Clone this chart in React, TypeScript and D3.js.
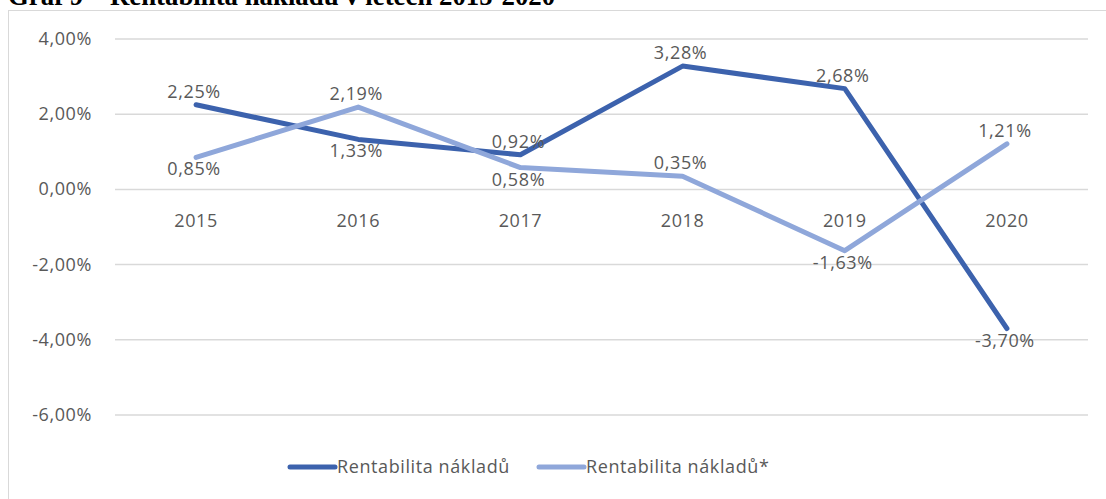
import React from "react";
import * as d3 from "d3";

// chart data
const years = ["2015", "2016", "2017", "2018", "2019", "2020"];
const rentabilita = [2.25, 1.33, 0.92, 3.28, 2.68, -3.7];
const rentabilitaStar = [0.85, 2.19, 0.58, 0.35, -1.63, 1.21];
const yTicks = [4, 2, 0, -2, -4, -6];
const seriesNames = ["Rentabilita nákladů", "Rentabilita nákladů*"];
// where each data label sits relative to its point
const posMain = ["above", "below", "above", "above", "above", "below"];
const posStar = ["below", "above", "below", "above", "below", "above"];

const W = 1106;
const H = 499;
const FONT = "'Open Sans', 'Noto Sans', sans-serif";
const FS = 18;
const LS = 0.6;
const C1 = "#3C62AD";
const C2 = "#8FA7DA";
const TXT = "#595959";

const fmt = (v: number) => v.toFixed(2).replace(".", ",") + "%";

const App = () => {
    const x = d3.scaleBand().domain(years).range([115, 1088]);
    const y = d3.scaleLinear().domain([-6, 4]).range([415, 39]);
    const cx = (d: string) => (x(d) ?? 0) + x.bandwidth() / 2;

    const line = d3.line<number>()
        .x((d, i) => cx(years[i]))
        .y((d) => y(d));

    const labelY = (v: number, pos: string) => {
        if (pos === "above") return y(v) - 7;
        return y(v) + 18;
    };

    const series = [
        { values: rentabilita, color: C1, pos: posMain },
        { values: rentabilitaStar, color: C2, pos: posStar },
    ];

    return (
        <svg width={W} height={H} style={{ position: "absolute", left: 0, top: 0 }}>
            <rect width={W} height={H} fill="#fff" />
            <text x={8} y={5} fontFamily="'Liberation Serif', 'Times New Roman', serif"
                fontWeight="bold" fontSize={26.8} fill="#000">
                Graf 9 – Rentabilita nákladů v letech 2015-2020
            </text>
            <rect x={8.5} y={10.5} width={W + 20} height={H + 20} fill="#fff" stroke="#d9d9d9" strokeWidth={1} />

            {yTicks.map((t) => (
                <g key={t}>
                    <line x1={115} x2={1088} y1={y(t)} y2={y(t)} stroke="#d9d9d9" strokeWidth={1.5} />
                    <text x={92} y={y(t) + 6} textAnchor="end" fontFamily={FONT} fontSize={FS}
                        letterSpacing={LS} fill={TXT}>
                        {fmt(t)}
                    </text>
                </g>
            ))}

            {years.map((yr) => (
                <text key={yr} x={cx(yr)} y={y(0) + 38} textAnchor="middle" fontFamily={FONT} fontSize={FS}
                    letterSpacing={LS} fill={TXT}>
                    {yr}
                </text>
            ))}

            {series.map((s, si) => (
                <path key={si} d={line(s.values) ?? ""} fill="none" stroke={s.color}
                    strokeWidth={5} strokeLinecap="round" strokeLinejoin="round" />
            ))}

            {series.map((s, si) =>
                s.values.map((v, i) => (
                    <text key={si + "-" + i} x={cx(years[i]) - 2} y={labelY(v, s.pos[i])} textAnchor="middle"
                        fontFamily={FONT} fontSize={FS} letterSpacing={LS} fill={TXT}>
                        {fmt(v)}
                    </text>
                ))
            )}

            {series.map((s, si) => {
                const lx = si === 0 ? 290 : 539;
                return (
                    <g key={"lg" + si}>
                        <line x1={lx} x2={lx + 45} y1={467} y2={467} stroke={s.color} strokeWidth={5} strokeLinecap="round" />
                        <text x={lx + 47} y={473} fontFamily={FONT} fontSize={FS} letterSpacing={LS} fill={TXT}>
                            {seriesNames[si]}
                        </text>
                    </g>
                );
            })}
        </svg>
    );
};

export default App;
